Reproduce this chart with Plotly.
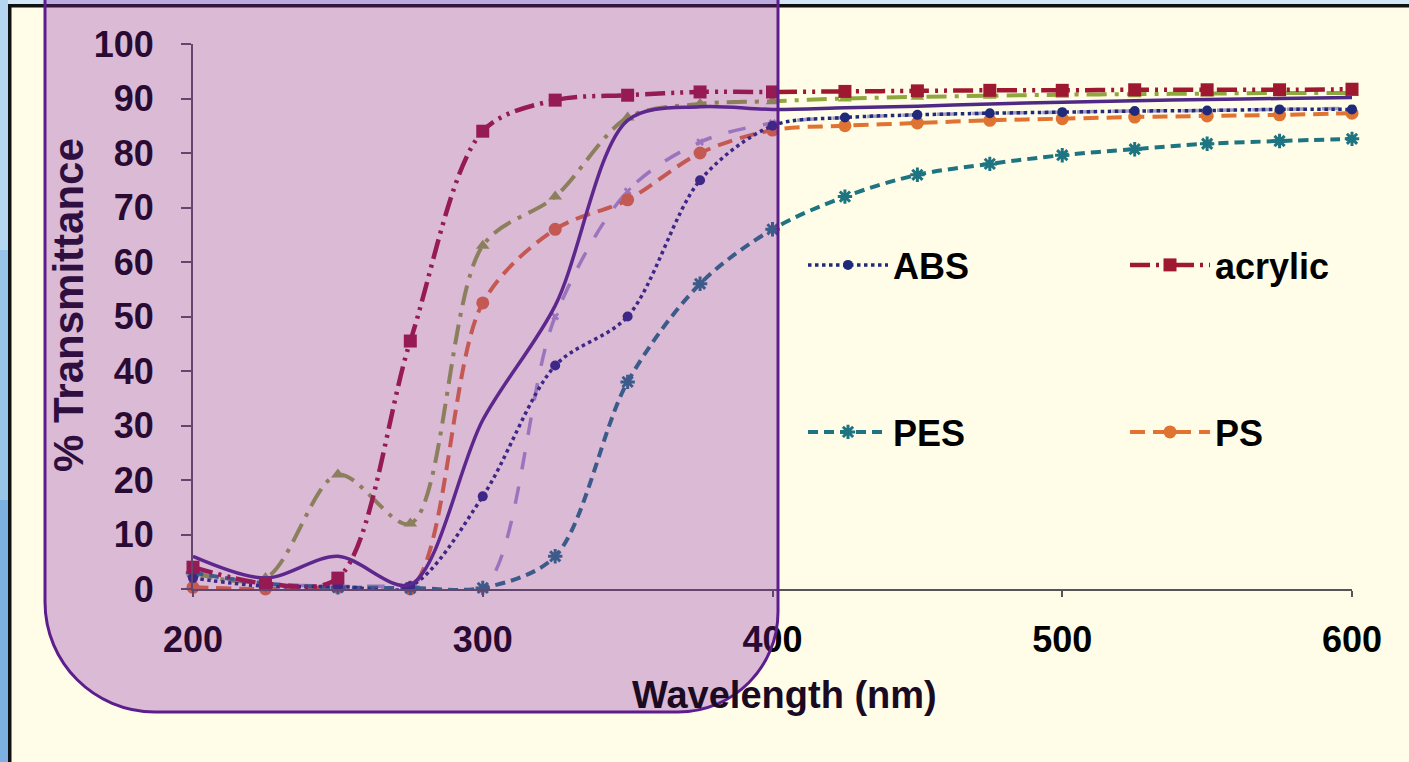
import plotly.graph_objects as go

# ---------------- data ----------------
wavelength = [200, 225, 250, 275, 300, 325, 350, 375, 400, 425, 450, 475, 500, 525, 550, 575, 600]

abs_t     = [2, 0.5, 0.5, 0.5, 17, 41, 50, 75, 85, 86.5, 87, 87.3, 87.5, 87.7, 87.8, 88, 88]
acrylic_t = [4, 1, 2, 45.5, 84, 89.7, 90.6, 91.2, 91.2, 91.3, 91.4, 91.5, 91.5, 91.6, 91.6, 91.6, 91.7]
pes_t     = [3, 1, 0.3, 0.2, 0.2, 6, 38, 56, 66, 72, 76, 78, 79.6, 80.7, 81.7, 82.2, 82.6]
ps_t      = [0.3, 0, 0.3, 0, 52.5, 66, 71.4, 80, 84.2, 85, 85.5, 86, 86.3, 86.6, 86.8, 87, 87.3]
olive_t   = [3, 2, 21, 12, 63, 72, 86.5, 89, 89.5, 90, 90.3, 90.5, 90.7, 90.8, 90.9, 91, 91]
purple_t  = [6, 2, 6, 0.8, 31, 52, 86, 88.5, 88, 88.3, 88.6, 89, 89.3, 89.6, 89.8, 90, 90.2]
lav_t     = [3, 1, 0.5, 0.5, 0, 50, 73, 82, 85.5, 86.5, 87, 87.3, 87.5, 87.7, 87.8, 88, 88.2]

x_ticks = [200, 300, 400, 500, 600]
y_ticks = [0, 10, 20, 30, 40, 50, 60, 70, 80, 90, 100]

# ---------------- layout geometry ----------------
W, H = 1409, 762
L, R, T, B = 193, 1352, 44, 589   # plot area pixel box


def px(x):
    return (x - L) / (R - L)


def py(y):
    return (B - y) / (B - T)


FONT = "Liberation Sans"
CREAM = "#FFFDE8"

fig = go.Figure()


def add(name, y, color, dash, width, symbol, msize, legend=None, mline=None):
    marker = dict(symbol=symbol, size=msize, color=color)
    if mline:
        marker["line"] = dict(color=color, width=mline)
    fig.add_trace(go.Scatter(
        x=wavelength, y=y, name=name,
        mode="lines+markers" if symbol else "lines",
        line=dict(color=color, dash=dash, width=width, shape="spline", smoothing=0.9),
        marker=marker,
        cliponaxis=False,
        showlegend=legend is not None,
        legend=legend if legend else "legend",
    ))


add("lavender", lav_t, "#A49AC8", "longdash", 3.5, "x", 7)
add("olive", olive_t, "#8FA83E", "longdashdot", 4, "triangle-up", 12)
add("PS", ps_t, "#E07232", "15px,8px", 4, "circle", 13, legend="legend4")
add("PES", pes_t, "#1E7480", "10px,6px", 4, "asterisk-open", 12, legend="legend3", mline=3)
add("ABS", abs_t, "#1F2A7A", "dot", 3.5, "circle", 10, legend="legend")
add("purple", purple_t, "#4E2A84", "solid", 3.5, None, 0)
add("acrylic", acrylic_t, "#9E1830", "20px,6px,3px,6px,3px,6px", 4.5, "square", 13, legend="legend2")

tick_font = dict(family=FONT, size=36, color="black", weight="bold")

shapes = [
    # top light-blue strip and black rule
    dict(type="rect", xref="paper", yref="paper", x0=px(0), x1=px(W), y0=py(0), y1=py(5),
         fillcolor="#D4E7F6", line_width=0, layer="below"),
    dict(type="rect", xref="paper", yref="paper", x0=px(9), x1=px(W), y0=py(4), y1=py(7.5),
         fillcolor="#111111", line_width=0, layer="below"),
    # left blue strip and black rule
    dict(type="rect", xref="paper", yref="paper", x0=px(0), x1=px(8), y0=py(0), y1=py(250),
         fillcolor="#B4D6F0", line_width=0, layer="below"),
    dict(type="rect", xref="paper", yref="paper", x0=px(0), x1=px(8), y0=py(250), y1=py(500),
         fillcolor="#98C4EA", line_width=0, layer="below"),
    dict(type="rect", xref="paper", yref="paper", x0=px(0), x1=px(8), y0=py(500), y1=py(H),
         fillcolor="#7CAFE2", line_width=0, layer="below"),
    dict(type="rect", xref="paper", yref="paper", x0=px(8), x1=px(11.5), y0=py(4), y1=py(H),
         fillcolor="#111111", line_width=0, layer="below"),
]

# purple translucent rounded overlay
k = 0.5523
xl, xr, yb = 45, 778, 712
rl, rr = 110, 100
path = (
    f"M {px(xl)},{py(-20)} "
    f"L {px(xl)},{py(yb - rl)} "
    f"C {px(xl)},{py(yb - rl + k * rl)} {px(xl + rl - k * rl)},{py(yb)} {px(xl + rl)},{py(yb)} "
    f"L {px(xr - rr)},{py(yb)} "
    f"C {px(xr - rr + k * rr)},{py(yb)} {px(xr)},{py(yb - rr + k * rr)} {px(xr)},{py(yb - rr)} "
    f"L {px(xr)},{py(-20)} Z"
)
shapes.append(dict(type="path", xref="paper", yref="paper", path=path,
                   fillcolor="rgba(133,33,167,0.30)",
                   line=dict(color="#5C1E8C", width=3), layer="above"))

annotations = [
    dict(text="Wavelength (nm)", xref="paper", yref="paper", x=px(784), y=py(695),
         showarrow=False, xanchor="center", yanchor="middle",
         font=dict(family=FONT, size=38, color="#1a0a22", weight="bold")),
    dict(text="% Transmittance", xref="paper", yref="paper", x=px(68), y=py(305),
         showarrow=False, xanchor="center", yanchor="middle", textangle=-90,
         font=dict(family=FONT, size=42, color="#2E0F40", weight="bold")),
]

legend_common = dict(orientation="v", bgcolor="rgba(0,0,0,0)", borderwidth=0,
                     font=dict(family=FONT, size=36, color="black", weight="bold"),
                     itemwidth=80, xanchor="left", yanchor="middle", itemclick=False)

col1, col2 = 803, 1125
row1, row2 = 265, 432

fig.update_layout(
    width=W, height=H,
    margin=dict(l=L, r=W - R, t=T, b=H - B, pad=0),
    paper_bgcolor=CREAM, plot_bgcolor="rgba(0,0,0,0)",
    xaxis=dict(range=[200, 600], tickvals=x_ticks, ticktext=[str(v) for v in x_ticks],
               showline=True, linecolor="#555555", linewidth=2,
               ticks="outside", ticklen=6, tickcolor="#555555", tickwidth=2,
               showgrid=False, zeroline=False, tickfont=tick_font, ticklabelstandoff=12),
    yaxis=dict(range=[0, 100], tickvals=y_ticks, ticktext=[str(v) for v in y_ticks],
               showline=True, linecolor="#555555", linewidth=2,
               ticks="outside", ticklen=10, tickcolor="#555555", tickwidth=2,
               showgrid=False, zeroline=False, tickfont=tick_font, ticklabelstandoff=20),
    legend=dict(x=px(col1), y=py(row1), **legend_common),
    legend2=dict(x=px(col2), y=py(row1), **legend_common),
    legend3=dict(x=px(col1), y=py(row2), **legend_common),
    legend4=dict(x=px(col2), y=py(row2), **legend_common),
    shapes=shapes,
    annotations=annotations,
)

fig.write_html("out.html")
